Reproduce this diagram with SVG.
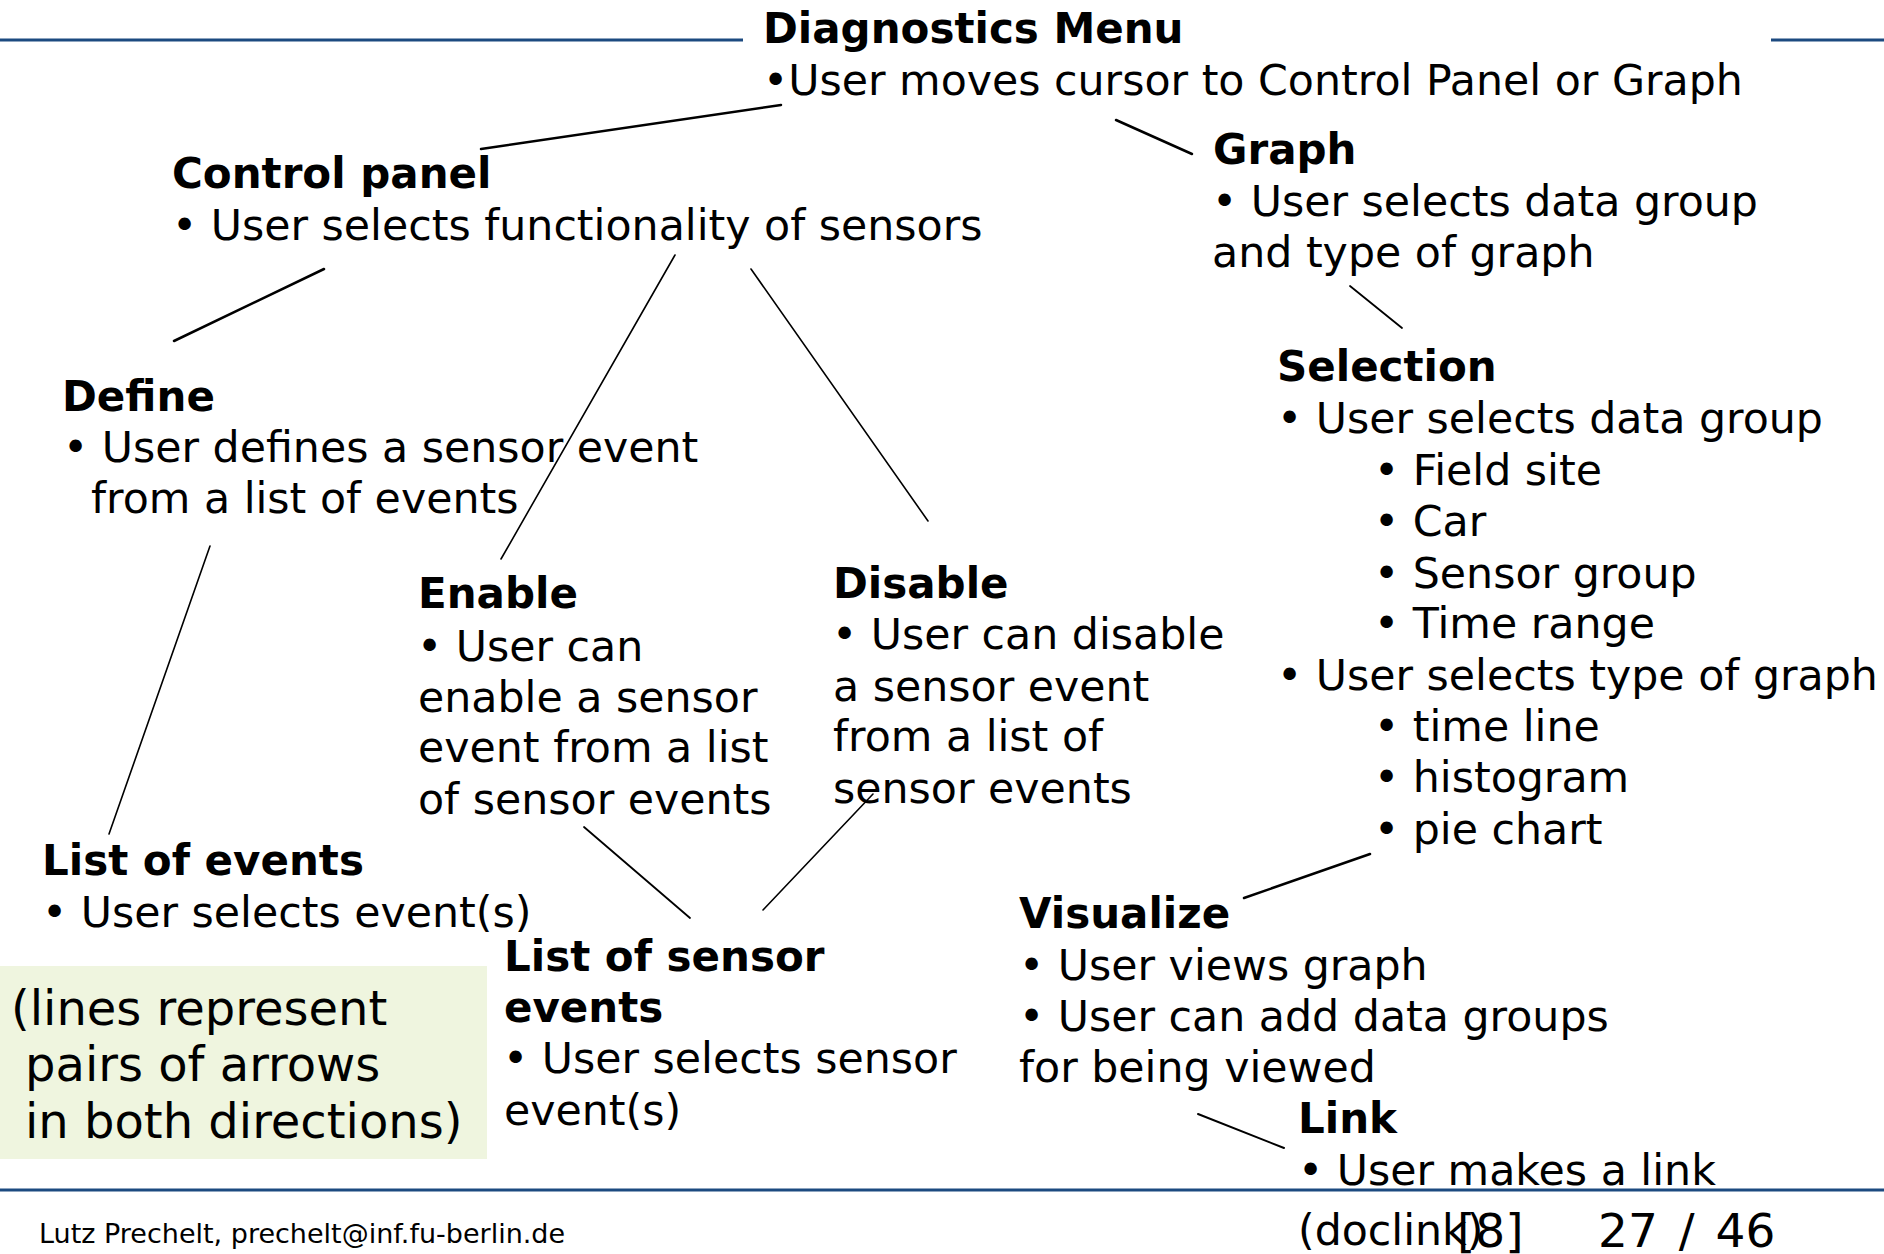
<svg xmlns="http://www.w3.org/2000/svg" width="1884" height="1254" viewBox="0 0 1884 1254">
<style>
text{font-family:"DejaVu Sans","Verdana",sans-serif;font-size:42.7px;fill:#000}
.t{font-weight:bold;font-size:42px}
.note{font-size:48px}
.foot{font-size:27px}
.pg{font-size:47px}
.c line{stroke:#000;stroke-width:2;stroke-linecap:round}
.rule{stroke:#1c4a80;stroke-width:3}
</style>
<rect width="1884" height="1254" fill="#fff"/>
<line class="rule" x1="0" y1="40" x2="743" y2="40"/>
<line class="rule" x1="1771" y1="40" x2="1884" y2="40"/>
<line class="rule" x1="0" y1="1190" x2="1884" y2="1190"/>
<g class="c" id="connectors">
<line x1="781" y1="105" x2="481" y2="149" style="stroke-width:2.5"/>
<line x1="1116" y1="120" x2="1192" y2="154" style="stroke-width:2.5"/>
<line x1="324" y1="269" x2="174" y2="341" style="stroke-width:2.5"/>
<line x1="675" y1="255" x2="501" y2="559" style="stroke-width:1.6"/>
<line x1="751" y1="269" x2="928" y2="521" style="stroke-width:1.6"/>
<line x1="1350" y1="286" x2="1402" y2="328" style="stroke-width:1.8"/>
<line x1="210" y1="546" x2="109" y2="834" style="stroke-width:1.6"/>
<line x1="584" y1="827" x2="690" y2="918" style="stroke-width:1.8"/>
<line x1="873" y1="794" x2="763" y2="910" style="stroke-width:1.6"/>
<line x1="1370" y1="854" x2="1244" y2="898" style="stroke-width:2.5"/>
<line x1="1198" y1="1114" x2="1284" y2="1148" style="stroke-width:2"/>
</g>
<g id="note">
<rect x="0" y="966" width="487" height="193" fill="#eff5df"/>
<text class="note" x="11" y="1025">(lines represent</text>
<text class="note" x="25" y="1081">pairs of arrows</text>
<text class="note" x="25" y="1138">in both directions)</text>
</g>
<g transform="translate(0,1.5)">
<g id="diagnostics">
<text class="t" x="763" y="41">Diagnostics Menu</text>
<text x="763" y="93">•User moves cursor to Control Panel or Graph</text>
</g>
<g id="control-panel">
<text class="t" x="172" y="186">Control panel</text>
<text x="172" y="238">• User selects functionality of sensors</text>
</g>
<g id="graph">
<text class="t" x="1213" y="162">Graph</text>
<text x="1212" y="214">• User selects data group</text>
<text x="1212" y="265">and type of graph</text>
</g>
<g id="selection">
<text class="t" x="1277" y="379">Selection</text>
<text x="1277" y="431">• User selects data group</text>
<text x="1374" y="483">• Field site</text>
<text x="1374" y="534">• Car</text>
<text x="1374" y="586">• Sensor group</text>
<text x="1374" y="636">• Time range</text>
<text x="1277" y="688">• User selects type of graph</text>
<text x="1374" y="739">• time line</text>
<text x="1374" y="790">• histogram</text>
<text x="1374" y="842">• pie chart</text>
</g>
<g id="define">
<text class="t" x="62" y="409">Define</text>
<text x="63" y="460">• User defines a sensor event</text>
<text x="91" y="511">from a list of events</text>
</g>
<g id="enable">
<text class="t" x="418" y="606">Enable</text>
<text x="417" y="659">• User can</text>
<text x="418" y="710">enable a sensor</text>
<text x="418" y="760">event from a list</text>
<text x="418" y="812">of sensor events</text>
</g>
<g id="disable">
<text class="t" x="833" y="596">Disable</text>
<text x="832" y="647">• User can disable</text>
<text x="833" y="699">a sensor event</text>
<text x="833" y="749">from a list of</text>
<text x="833" y="801">sensor events</text>
</g>
<g id="list-of-events">
<text class="t" x="42" y="873">List of events</text>
<text x="42" y="925">• User selects event(s)</text>
</g>
<g id="list-of-sensor-events">
<text class="t" x="504" y="969">List of sensor</text>
<text class="t" x="504" y="1020">events</text>
<text x="503" y="1071">• User selects sensor</text>
<text x="504" y="1123">event(s)</text>
</g>
<g id="visualize">
<text class="t" x="1019" y="926">Visualize</text>
<text x="1019" y="978">• User views graph</text>
<text x="1019" y="1029">• User can add data groups</text>
<text x="1019" y="1080">for being viewed</text>
</g>
<g id="link">
<text class="t" x="1298" y="1131">Link</text>
<text x="1298" y="1183">• User makes a link</text>
<text x="1298" y="1243">(doclink)</text>
</g>
<g id="footer">
<text class="foot" x="39" y="1241">Lutz Prechelt, prechelt@inf.fu-berlin.de</text>
<text class="pg" x="1457" y="1245">[8]</text>
<text class="pg" x="1598" y="1245" style="word-spacing:6px">27 / 46</text>
</g>
</g>
</svg>
